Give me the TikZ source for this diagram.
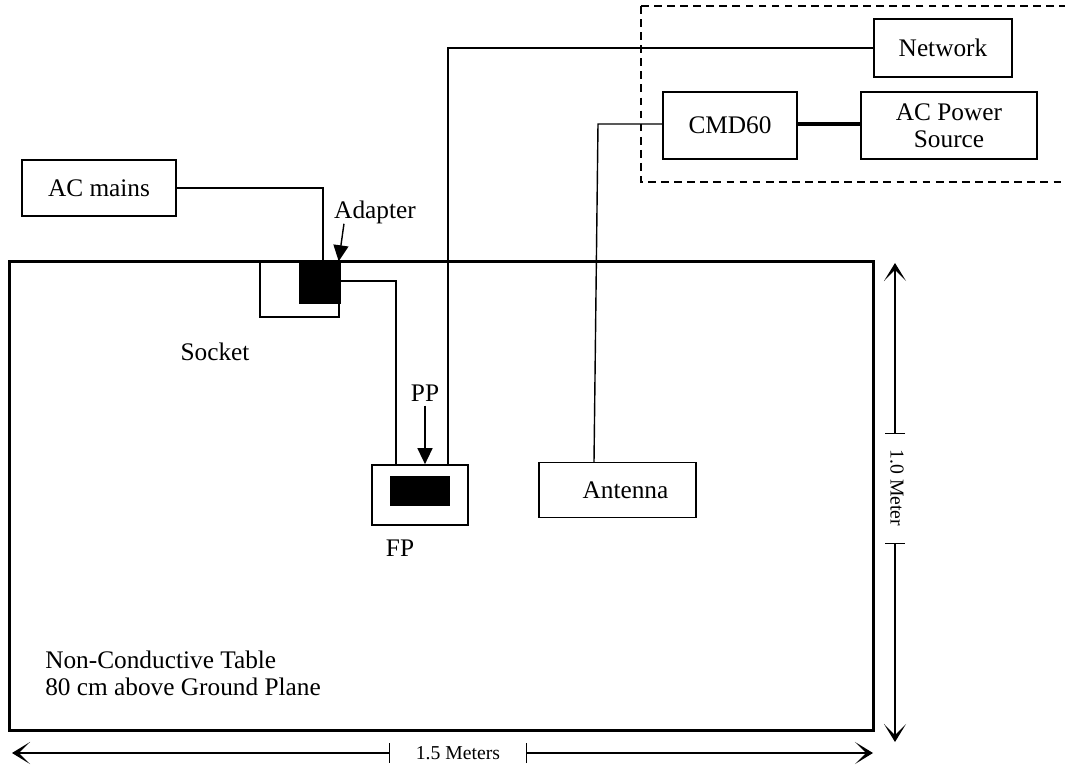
\documentclass[tikz,border=0pt]{standalone}
\usepackage{fontspec}
\setmainfont{Liberation Serif}
\usepackage{tikz}
\usetikzlibrary{arrows.meta, positioning}
\tikzset{
  devbox/.style={draw=black,line width=1.2pt,inner sep=0pt,font=\fontsize{18}{19}\selectfont,align=center},
  blkbox/.style={draw=black,fill=black,line width=1pt,inner sep=0pt},
  tblbox/.style={draw=black,line width=2.2pt,inner sep=0pt},
  txtlbl/.style={inner sep=0pt,font=\fontsize{18}{19}\selectfont},
  dimlbl/.style={inner sep=0pt,font=\fontsize{14}{15}\selectfont},
  wire/.style={line width=1pt,black},
  pwrwire/.style={line width=2.6pt,black},
  ptrarrow/.style={-{Triangle[length=0.4cm,width=0.375cm]},line width=1pt},
  dimarrow/.style={{Bar[width=0.5cm]}-{Stealth[length=0.45cm,width=0.55cm,inset=0.28cm]},line width=1pt},
  dashbox/.style={draw=black,line width=1pt,dash pattern=on 5.5pt off 3.8pt},
}

\begin{document}
\begin{tikzpicture}[x=0.025cm,y=-0.025cm]
  \useasboundingbox (0,0) rectangle (1065,767);
  \clip (0,0) rectangle (1065,767);
  % test equipment area
  \draw[dashbox] (641,6) rectangle (1090,182);
  \node[tblbox,minimum width=21.575cm,minimum height=11.7cm] (nTable) at (441.5,496) {};
  \node[devbox,minimum width=3.85cm,minimum height=1.4cm] (nMains) at (99,188) {AC mains};
  \node[devbox,minimum width=1.975cm,minimum height=1.375cm] (nSocket) at (299.5,289.5) {};
  \node[blkbox,minimum width=1.0cm,minimum height=1.025cm] (nAdapter) at (320,282.5) {};
  \node[devbox,minimum width=2.4cm,minimum height=1.5cm] (nFP) at (420,495) {};
  \node[blkbox,minimum width=1.45cm,minimum height=0.7cm] (nPP) at (420,491) {};
  \node[devbox,minimum width=3.925cm,minimum height=1.375cm] (nAntenna) at (617.5,490) {\hspace*{0.4cm}Antenna};
  \node[devbox,minimum width=3.35cm,minimum height=1.675cm] (nCMD) at (730,125.5) {CMD60};
  \node[devbox,minimum width=4.4cm,minimum height=1.675cm] (nPower) at (949,125.5) {AC Power\\Source};
  \node[devbox,minimum width=3.45cm,minimum height=1.45cm] (nNetwork) at (943,48) {Network};
  % labels
  \node[txtlbl] (lAdapter) at (375,212) {Adapter};
  \node[txtlbl] (lSocket) at (215,352) {Socket};
  \node[txtlbl] (lPP) at (425,393) {PP};
  \node[txtlbl] (lFP) at (400,548) {FP};
  \node[txtlbl,align=left,anchor=west,font=\fontsize{18}{19.2}\selectfont] (lTable) at (45,673) {Non-Conductive Table\\80 cm above Ground Plane};
  % cabling
  \coordinate (cMains) at (323,188);
  \coordinate (cFP) at (396,281);
  \coordinate (cNet) at (448,48);
  \coordinate (cAnt) at (598,124);
  \coordinate (cAntFoot) at (594,462);
  \draw[wire] (nMains.east |- cMains) -- (cMains) -- (cMains |- nAdapter.north);
  \draw[wire] (nAdapter.east |- cFP) -- (cFP) -- (cFP |- nFP.north);
  \draw[wire] (cNet |- nFP.north) -- (cNet) -- (nNetwork.west |- cNet);
  \draw[wire] (nCMD.west |- cAnt) -- (cAnt) -- (cAntFoot);
  \draw[pwrwire] (nCMD.east |- cAnt) -- (nPower.west |- cAnt);
  \draw[ptrarrow] ([xshift=0.25cm]lAdapter.south west) -- ([xshift=-0.05cm]nAdapter.north east);
  \draw[ptrarrow] ([yshift=-0.1cm]lPP.south) -- (lPP.south |- nFP.north);
  % dimensions
  \coordinate (vTop) at (895,263);
  \coordinate (vTickA) at (895,434);
  \coordinate (vTickB) at (895,543);
  \coordinate (vBot) at (895,742);
  \node[dimlbl,rotate=-90] (lHeight) at (897,488) {1.0 Meter};
  \draw[dimarrow] (vTickA) -- (vTop);
  \draw[dimarrow] (vTickB) -- (vBot);
  \coordinate (hLeft) at (12,753);
  \coordinate (hTickA) at (390,753);
  \coordinate (hTickB) at (526,753);
  \coordinate (hRight) at (873,753);
  \node[dimlbl] (lWidth) at (458,753) {1.5 Meters};
  \draw[dimarrow] (hTickA) -- (hLeft);
  \draw[dimarrow] (hTickB) -- (hRight);
\end{tikzpicture}
\end{document}
